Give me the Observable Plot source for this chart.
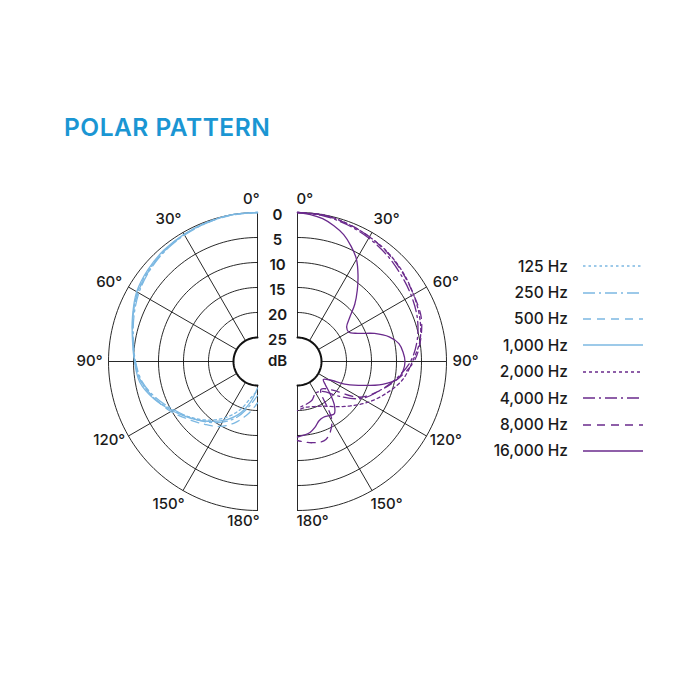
<!DOCTYPE html>
<html><head><meta charset="utf-8">
<script src="https://cdn.jsdelivr.net/npm/d3@7"></script>
<script src="https://cdn.jsdelivr.net/npm/@observablehq/plot@0.6"></script>
<style>
body{margin:0;background:#fff;font-family:Inter,"Liberation Sans",sans-serif;}
#page{position:relative;width:692px;height:692px;overflow:hidden;background:#fff}
#title{position:absolute;left:64px;top:112px;font-size:24.5px;font-weight:600;color:#1b96d3;letter-spacing:0.5px;line-height:30px}
#chart{position:absolute;left:0;top:180px}
#legend{position:absolute;left:460px;top:253px}
.row{display:flex;align-items:center;height:26.4px}
.row span{width:108px;text-align:right;font-size:15.5px;font-weight:500;color:#1a1a1a}
.row svg{margin-left:15px}
</style></head>
<body>
<div id="page">
  <div id="title">POLAR PATTERN</div>
  <div id="chart"></div>
  <div id="legend"></div>
</div>
<script>
// ---- data ----
const angles = [0,10,20,30,40,50,60,70,80,90,100,110,120,130,140,150,160,170,180];
const angles16k = [0,5,10,15,20,25,30,35,40,45,50,55,60,65,70,75,80,85,90,95,100,105,110,115,120,125,130,135,140,145,150,155,160,165,170,175,180];
const dbTicks = [0,5,10,15,20,25];
const angleTicks = [0,30,60,90,120,150,180];

const seriesNames = ["125 Hz","250 Hz","500 Hz","1,000 Hz","2,000 Hz","4,000 Hz","8,000 Hz","16,000 Hz"];
const seriesSide = [-1,-1,-1,-1,1,1,1,1];
const seriesColor = ["#7cb8e2","#7cb8e2","#7cb8e2","#7cb8e2","#6a2a8c","#6a2a8c","#6a2a8c","#6a2a8c"];
const seriesDash = ["2.5,3","12,4,2,4","8,6","none","3,3","12,4,2,4","8,6","none"];

// attenuation in dB (0 = on-axis)
const db125  = [0,0,0.2,0.5,0.9,1.4,2.1,3.3,4.5,5.3,6.2,8.0,10.3,12.4,14.5,16.8,19.5,22.5,24];
const db250  = [0,0,0.3,0.6,1.0,1.6,2.4,3.5,4.6,5.4,6.4,8.3,10.5,12.3,14.0,15.8,18.0,20.8,23];
const db500  = [0,0.1,0.3,0.5,0.9,1.5,2.2,3.3,4.5,5.3,6.2,8.0,9.8,11.8,13.4,14.8,16.8,19.2,21.5];
const db1000 = [0,0,0.2,0.4,0.7,1.2,1.9,3.2,4.4,5.2,5.9,7.8,10.1,12.2,14.2,16.2,18.5,21.5,24.5];
const db2000 = [0,0,0.5,1.0,1.5,2.2,3.0,3.8,4.9,6.8,8.5,11.0,13.5,16.0,18.0,19.5,20.2,20.5,20];
const db4000 = [0,0.2,0.7,1.3,2.0,2.8,3.5,4.3,5.5,7.2,9.8,12.5,15.0,19.0,22.0,22.5,21.5,21.0,20.5];
const db8000 = [0,0.1,0.5,1.0,1.6,2.3,3.0,3.5,4.8,6.5,9.5,12.5,15.5,21.0,22.5,16.0,13.2,13.3,14];
const db16000 = [0,0.3,0.8,1.7,2.8,4.4,6.2,8.7,11.2,13.6,16.2,17.8,18,16.5,13.4,10.8,9.2,8.6,8.3,8.6,9.5,12.2,15.8,19.0,22.5,23.5,22.5,20.5,18.3,17.0,17.3,17.5,17.2,16.2,15.4,15.0,14.7];

const seriesValues = [db125,db250,db500,db1000,db2000,db4000,db8000,db16000];
const seriesAngles = [angles,angles,angles,angles,angles,angles,angles,angles16k];

// ---- geometry helpers (scale units = pixels) ----
const HOLE = 24, STEP = 5, HALF_GAP = 20;
const rad = db => HOLE + (25 - db) * STEP;
const px = (side, r, deg) => side * (HALF_GAP + r * Math.sin(deg * Math.PI / 180));
const py = (r, deg) => r * Math.cos(deg * Math.PI / 180);

const W = 692, H = 360, CX = 277, CY = 181;

// grid rings
const ringPts = [];
for (const side of [-1, 1]) for (const db of dbTicks) for (let a = 0; a <= 180; a += 2)
  ringPts.push({key: side + "_" + db, side, db, a});
const spokes = [];
for (const side of [-1, 1]) for (const a of angleTicks) spokes.push({side, a});

const angleLabels = [];
for (const side of [-1, 1]) for (const a of angleTicks) angleLabels.push({side, a, label: a + "°"});

const marks = [];
marks.push(Plot.line(ringPts.filter(d => d.db < 25), {
  x: d => px(d.side, rad(d.db), d.a), y: d => py(rad(d.db), d.a), z: "key",
  stroke: "#111", strokeWidth: 0.9
}));
marks.push(Plot.line(ringPts.filter(d => d.db === 25), {
  x: d => px(d.side, rad(d.db), d.a), y: d => py(rad(d.db), d.a), z: "key",
  stroke: "#111", strokeWidth: 2
}));
marks.push(Plot.link(spokes, {
  x1: d => px(d.side, rad(25), d.a), y1: d => py(rad(25), d.a),
  x2: d => px(d.side, rad(0), d.a), y2: d => py(rad(0), d.a),
  stroke: "#111", strokeWidth: 0.9
}));

// data curves
seriesNames.forEach((name, i) => {
  const side = seriesSide[i];
  const rows = seriesAngles[i].map((a, j) => ({a, db: seriesValues[i][j]}));
  marks.push(Plot.line(rows, {
    x: d => px(side, rad(d.db), d.a), y: d => py(rad(d.db), d.a),
    stroke: seriesColor[i], strokeWidth: 1.3,
    strokeDasharray: seriesDash[i] === "none" ? null : seriesDash[i],
    curve: "catmull-rom"
  }));
});

// angle labels (30°..150°) just outside the outer ring, nudged toward 90°
const LR = 168;
const labA = a => a + (a < 90 ? 2 : a > 90 ? -2 : 0);
const textStyle = {fontSize: 15, fontWeight: 500, fill: "#1a1a1a", fontFamily: "Inter"};
marks.push(Plot.text(angleLabels.filter(d => d.a % 180 !== 0), {
  x: d => px(d.side, LR, labA(d.a)), y: d => py(LR, labA(d.a)), text: "label", ...textStyle
}));
// 0° and 180° labels beside the vertical axis of each half
marks.push(Plot.text(angleLabels.filter(d => d.a % 180 === 0 && d.side < 0), {
  x: d => -HALF_GAP + 2, y: d => d.a === 0 ? 162 : -160, text: "label", textAnchor: "end", ...textStyle
}));
marks.push(Plot.text(angleLabels.filter(d => d.a % 180 === 0 && d.side > 0), {
  x: d => HALF_GAP - 1, y: d => d.a === 0 ? 162 : -160, text: "label", textAnchor: "start", ...textStyle
}));
// dB labels
marks.push(Plot.text(dbTicks, {
  x: 0, y: d => rad(d), text: d => String(d), dy: 3,
  fontSize: 15, fontWeight: 600, fill: "#1a1a1a", fontFamily: "Inter"
}));
marks.push(Plot.text(["dB"], {
  x: 0, y: 0, text: d => d, dy: 0,
  fontSize: 15, fontWeight: 600, fill: "#1a1a1a", fontFamily: "Inter"
}));

const chart = Plot.plot({
  width: W, height: H, margin: 0,
  x: {domain: [-CX, W - CX], range: [0, W], axis: null},
  y: {domain: [-(H - CY), CY], range: [H, 0], axis: null},
  style: {background: "transparent", overflow: "visible"},
  marks
});
document.getElementById("chart").appendChild(chart);

// legend
const legend = document.getElementById("legend");
seriesNames.forEach((name, i) => {
  const row = document.createElement("div");
  row.className = "row";
  const dash = seriesDash[i] === "none" ? "" : ` stroke-dasharray="${seriesDash[i]}"`;
  row.innerHTML = `<span>${name}</span><svg width="60" height="4"><line x1="0" y1="2" x2="60" y2="2" stroke="${seriesColor[i]}" stroke-width="1.4"${dash}/></svg>`;
  legend.appendChild(row);
});
</script>
</body></html>
